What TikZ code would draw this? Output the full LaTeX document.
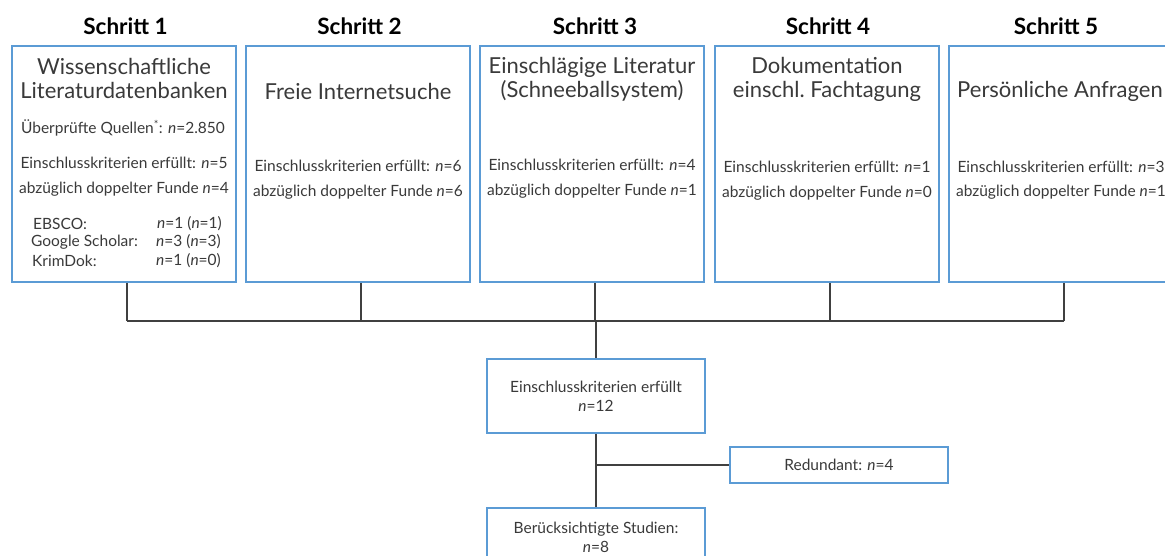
\documentclass[tikz,border=0pt]{standalone}
\usepackage{fontspec}
\setmainfont{Lato}
\definecolor{boxblue}{HTML}{5B9BD5}
\definecolor{txt}{HTML}{3A3A3A}
\definecolor{conn}{HTML}{404040}
\begin{document}
\begin{tikzpicture}[x=1pt,y=-1pt,
  box/.style={draw=boxblue,line width=2.5pt,inner sep=0pt,fill=white},
  bigbox/.style={box,minimum width=224pt,minimum height=236pt},
  smallbox/.style={box,minimum width=218pt,text=txt,align=center,font=\fontsize{15.5}{19}\selectfont},
  hdr/.style={inner sep=0pt,font=\bfseries\fontsize{22.5}{25}\selectfont,text=black},
  ttl/.style={inner sep=0pt,align=center,text=txt,font=\fontsize{22}{24}\selectfont},
  sm/.style={inner sep=0pt,text=txt,font=\fontsize{15.5}{18}\selectfont},
  conline/.style={draw=conn,line width=2pt}]
\useasboundingbox (0,0) rectangle (1165,556);
\clip (0,0) rectangle (1165,556);
% headers
\node[hdr] (h1) at (125.5,26) {Schritt 1};
\node[hdr] (h2) at (359.5,26) {Schritt 2};
\node[hdr] (h3) at (595,26) {Schritt 3};
\node[hdr] (h4) at (828,26) {Schritt 4};
\node[hdr] (h5) at (1056,26) {Schritt 5};
% boxes
\node[bigbox] (b1) at (124,164) {};
\node[bigbox] (b2) at (358,164) {};
\node[bigbox] (b3) at (592,164) {};
\node[bigbox] (b4) at (827,164) {};
\node[bigbox] (b5) at (1061,164) {};
% box 1
\node[ttl] (t1) at (124,78) {Wissenschaftliche\\Literaturdatenbanken};
\node[sm] (q1) at (123,128) {Überprüfte Quellen\textsuperscript{*}: \textit{n}=2.850};
\node[sm] (e1) at (124,163) {Einschlusskriterien erfüllt: \textit{n}=5};
\node[sm] (a1) at (124,189) {abzüglich doppelter Funde \textit{n}=4};
\node[sm,anchor=west] (d1) at (33,224) {EBSCO:};
\node[sm,anchor=west] (d2) at (31,242) {Google Scholar:};
\node[sm,anchor=west] (d3) at (32,261) {KrimDok:};
\node[sm,anchor=west] (v1) at (157,224) {\textit{n}=1 (\textit{n}=1)};
\node[sm,anchor=west] (v2) at (156,242) {\textit{n}=3 (\textit{n}=3)};
\node[sm,anchor=west] (v3) at (156,261) {\textit{n}=1 (\textit{n}=0)};
% box 2
\node[ttl] (t2) at (358,91) {Freie Internetsuche};
\node[sm] (e2) at (358,166) {Einschlusskriterien erfüllt: \textit{n}=6};
\node[sm] (a2) at (358,192) {abzüglich doppelter Funde \textit{n}=6};
% box 3
\node[ttl] (t3) at (592,79) {Einschlägige Literatur\\(Schneeballsystem)};
\node[sm] (e3) at (592,165) {Einschlusskriterien erfüllt: \textit{n}=4};
\node[sm] (a3) at (592,191) {abzüglich doppelter Funde \textit{n}=1};
% box 4
\node[ttl] (t4) at (827,79) {Dokumentation\\einschl.\ Fachtagung};
\node[sm] (e4) at (827,167) {Einschlusskriterien erfüllt: \textit{n}=1};
\node[sm] (a4) at (827,193) {abzüglich doppelter Funde \textit{n}=0};
% box 5
\node[ttl] (t5) at (1060,91) {Persönliche Anfragen};
\node[sm] (e5) at (1061,167) {Einschlusskriterien erfüllt: \textit{n}=3};
\node[sm] (a5) at (1061,192) {abzüglich doppelter Funde \textit{n}=1};
% lower boxes
\node[smallbox,minimum height=74pt] (mid) at (596,396) {Einschlusskriterien erfüllt\\\textit{n}=12};
\node[smallbox,minimum height=36pt] (red) at (839,465) {Redundant: \textit{n}=4};
\node[smallbox,minimum height=58pt] (fin) at (596,537) {Berücksichtigte Studien:\\\textit{n}=8};
% connectors
\coordinate (bus) at (0,321);
\foreach \i in {1,...,5}{
  \draw[conline] ([xshift=2.5pt]b\i.south) -- ([xshift=2.5pt]b\i.south |- bus);
}
\draw[conline] ([xshift=2.5pt]b1.south |- bus) -- ([xshift=2.5pt]b5.south |- bus);
\draw[conline] (mid.north |- bus) -- (mid.north);
\draw[conline] (mid.south) -- (fin.north);
\draw[conline] (mid.south |- red.west) -- (red.west);
\end{tikzpicture}
\end{document}
